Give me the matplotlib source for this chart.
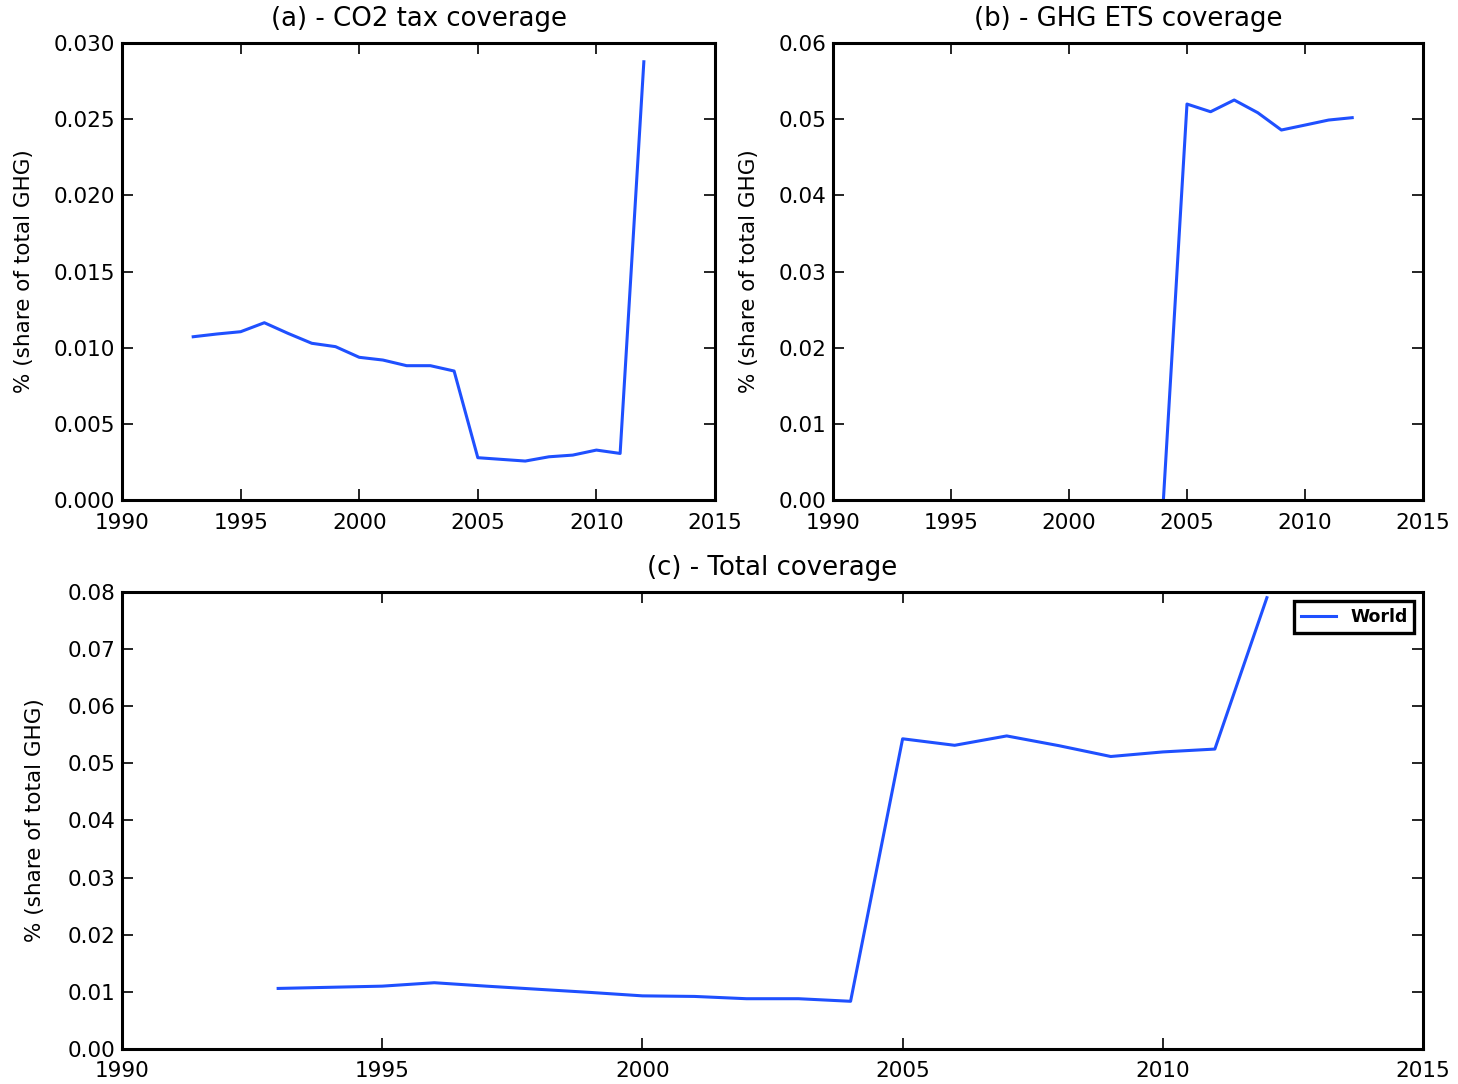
#!/usr/bin/env python3
"""Carbon pricing coverage: CO2 tax, GHG ETS and total (share of world GHG)."""
import matplotlib

matplotlib.use("Agg")
import matplotlib.pyplot as plt

# ── data ─────────────────────────────────────────────────────
YEARS_TAX = list(range(1993, 2013))
CO2_TAX = [0.01072, 0.0109, 0.01105, 0.01164, 0.01094, 0.01029, 0.01007,
           0.00937, 0.00919, 0.00882, 0.00882, 0.00847, 0.00278, 0.00267,
           0.00256, 0.00284, 0.00295, 0.00328, 0.00306, 0.02877]

YEARS_ETS = list(range(2004, 2013))
GHG_ETS = [0.0, 0.05199, 0.05098, 0.05252, 0.05085, 0.04858, 0.04923,
           0.04989, 0.0502]

YEARS_TOTAL = list(range(1993, 2013))
TOTAL = [0.0106, 0.0108, 0.0110, 0.0116, 0.0110, 0.01045, 0.0099, 0.0093,
         0.0092, 0.0088, 0.0088, 0.00835, 0.0543, 0.05316, 0.0548, 0.0531,
         0.0512, 0.0520, 0.0525, 0.0790]

XTICKS = [1990, 1995, 2000, 2005, 2010, 2015]
YTICKS_A = [0.0, 0.005, 0.010, 0.015, 0.020, 0.025, 0.030]
YTICKS_B = [0.0, 0.01, 0.02, 0.03, 0.04, 0.05, 0.06]
YTICKS_C = [0.0, 0.01, 0.02, 0.03, 0.04, 0.05, 0.06, 0.07, 0.08]

LINE = "#1f50ff"
YLABEL = "% (share of total GHG)"


def style_axes(ax, yticks, fmt, labelpad):
    ax.set_xlim(1990, 2015)
    ax.set_xticks(XTICKS)
    ax.set_ylim(yticks[0], yticks[-1])
    ax.set_yticks(yticks)
    ax.set_yticklabels([fmt.format(v) for v in yticks])
    ax.tick_params(direction="in", top=True, right=True, length=8,
                   width=1.2, labelsize=15.5)
    ax.tick_params(axis="x", pad=9)
    ax.tick_params(axis="y", pad=5)
    for sp in ax.spines.values():
        sp.set_linewidth(2.2)
    ax.set_ylabel(YLABEL, fontsize=15.5, labelpad=labelpad)


fig = plt.figure(figsize=(14.58, 10.84), dpi=100)

ax_a = fig.add_axes([0.0837, 0.5387, 0.4067, 0.4216])
ax_a.plot(YEARS_TAX, CO2_TAX, color=LINE, lw=2.2)
style_axes(ax_a, YTICKS_A, "{:.3f}", 14)
ax_a.set_title("(a) - CO2 tax coverage", fontsize=18.7, pad=12)

ax_b = fig.add_axes([0.5713, 0.5387, 0.4047, 0.4216])
ax_b.plot(YEARS_ETS, GHG_ETS, color=LINE, lw=2.2)
style_axes(ax_b, YTICKS_B, "{:.2f}", 14)
ax_b.set_title("(b) - GHG ETS coverage", fontsize=18.7, pad=12)

ax_c = fig.add_axes([0.0837, 0.0323, 0.8923, 0.4216])
ax_c.plot(YEARS_TOTAL, TOTAL, color=LINE, lw=2.2, label="World")
style_axes(ax_c, YTICKS_C, "{:.2f}", 16)
ax_c.set_title("(c) - Total coverage", fontsize=18.7, pad=12)
leg = ax_c.legend(loc="upper right", prop={"size": 12.5, "weight": "semibold"},
                  fancybox=False, borderaxespad=0.5, handlelength=2.0,
                  framealpha=1)
leg.get_frame().set_edgecolor("black")
leg.get_frame().set_linewidth(2.4)

fig.savefig("out.png", dpi=100, facecolor="white")
